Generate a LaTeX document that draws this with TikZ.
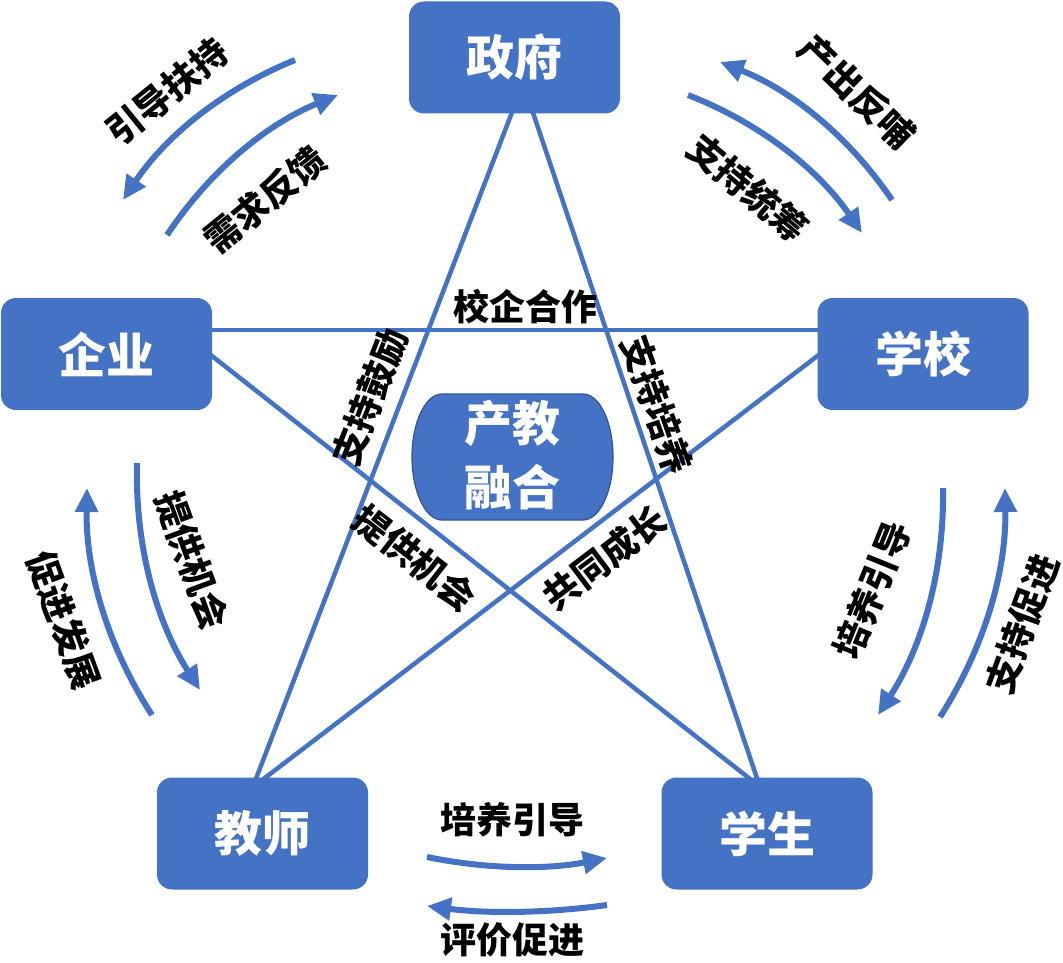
\documentclass[tikz,border=0pt]{standalone}
\usepackage{fontspec}
\setmainfont{Noto Sans CJK SC}
\usetikzlibrary{arrows.meta,calc}
\definecolor{myblue}{HTML}{4472C4}
\definecolor{myborder}{HTML}{2F5597}
\newcommand{\boxfnt}{\fontsize{48}{56}\selectfont\bfseries}
\newcommand{\labfnt}{\fontsize{36}{40}\selectfont\bfseries}
\pgfdeclarelayer{bg}
\pgfsetlayers{bg,main}
\tikzset{
  box/.style={fill=myblue, rounded corners=15pt, minimum width=211pt, minimum height=112pt, inner sep=0pt, text=white, font=\boxfnt},
  starline/.style={draw=myblue, line width=4.5pt},
  flow/.style={draw=myblue, line width=6pt, -{Triangle[length=24pt,width=22pt]}},
  lab/.style={font=\labfnt, inner sep=0pt, text=black},
  centertext/.style={font=\boxfnt, text=white, align=center, inner sep=0pt}
}
\begin{document}
\begin{tikzpicture}[x=1pt,y=-1pt]
\useasboundingbox (0,0) rectangle (1063,963);
% boxes
\node[box] (zf) at (514.5,57.5) {政府};
\node[box] (qy) at (106.5,354) {企业};
\node[box] (xx) at (923,354) {学校};
\node[box] (js) at (262.5,833.5) {教师};
\node[box] (xs) at (767,833.5) {学生};
% star lines
\begin{pgfonlayer}{bg}
\draw[starline] ($(zf.south)+(-1.5,-4)$) -- ($(js.north)+(-7.5,4)$);
\draw[starline] ($(zf.south)+(17.5,-4)$) -- ($(xs.north)+(-9,4)$);
\draw[starline] ($(qy.east)+(-4,-24)$) -- ($(xx.west)+(4,-24)$);
\draw[starline] ($(qy.east)+(-4,-1)$) -- ($(xs.north)+(-14,4)$);
\draw[starline] ($(xx.west)+(4,-1)$) -- ($(js.north)+(-2,4)$);
\end{pgfonlayer}
% center shape
\path[fill=myblue, draw=myborder, line width=1.2pt]
  (442,394) -- (583,394) .. controls (599.6,394) and (613,422.2) .. (613,457)
  .. controls (613,491.8) and (599.6,520) .. (583,520) -- (442,520)
  .. controls (425.4,520) and (412,491.8) .. (412,457)
  .. controls (412,422.2) and (425.4,394) .. (442,394) -- cycle;
\node[centertext] (cj) at (512.5,455) {产教\\[8pt]融合};
% curved arrow end points
\coordinate (a1s) at (295,60);  \coordinate (a1e) at (123,200);
\coordinate (a2s) at (167,235); \coordinate (a2e) at (338,95);
\coordinate (a3s) at (892,200); \coordinate (a3e) at (720,62);
\coordinate (a4s) at (688,95);  \coordinate (a4e) at (862,233);
\coordinate (a5s) at (137,463); \coordinate (a5e) at (200,690);
\coordinate (a6s) at (152,715); \coordinate (a6e) at (87,488);
\coordinate (a7s) at (943,488); \coordinate (a7e) at (878,715);
\coordinate (a8s) at (940,717); \coordinate (a8e) at (1005,488);
\coordinate (a9s) at (427,857); \coordinate (a9e) at (607,858);
\coordinate (a10s) at (607,905); \coordinate (a10e) at (427,906);
\draw[flow] (a1s) .. controls (223.3,89.1) and (166,135.7) .. (a1e);
\draw[flow] (a2s) .. controls (209.7,170.8) and (266.7,124.1) .. (a2e);
\draw[flow] (a3s) .. controls (848.9,136.3) and (791.5,90.3) .. (a3e);
\draw[flow] (a4s) .. controls (760.1,123.2) and (818.1,169.2) .. (a4e);
\draw[flow] (a5s) .. controls (134.9,545.1) and (155.9,620.7) .. (a5e);
\draw[flow] (a6s) .. controls (107.3,645.9) and (85.6,570.3) .. (a6e);
\draw[flow] (a7s) .. controls (944.4,570.3) and (922.7,645.9) .. (a7e);
\draw[flow] (a8s) .. controls (984.7,647.2) and (1006.4,570.9) .. (a8e);
\draw[flow] (a9s) .. controls (487,869.3) and (547,869.7) .. (a9e);
\draw[flow] (a10s) .. controls (547,913.3) and (487,913.7) .. (a10e);
% arrow labels
\node[lab, rotate=39] (l1) at (167,92) {引导扶持};
\node[lab, rotate=39] (l2) at (265,200) {需求反馈};
\node[lab, rotate=-44] (l3) at (857,92) {产出反哺};
\node[lab, rotate=-40] (l4) at (748,188) {支持统筹};
\node[lab, rotate=-70] (l5) at (192,560) {提供机会};
\node[lab, rotate=-70] (l6) at (64,620) {促进发展};
\node[lab, rotate=68] (l7) at (872,590) {培养引导};
\node[lab, rotate=70] (l8) at (1022,624) {支持促进};
\node[lab] (l9) at (512,820) {培养引导};
\node[lab] (l10) at (512,940) {评价促进};
% star labels
\node[lab] (l11) at (525,307) {校企合作};
\node[lab, rotate=68.7] (l12) at (370,397) {支持鼓励};
\node[lab, rotate=-70.6] (l13) at (657,405) {支持培养};
\node[lab, rotate=-37.9] (l14) at (415,558) {提供机会};
\node[lab, rotate=37.2] (l15) at (605,558) {共同成长};
\end{tikzpicture}
\end{document}
